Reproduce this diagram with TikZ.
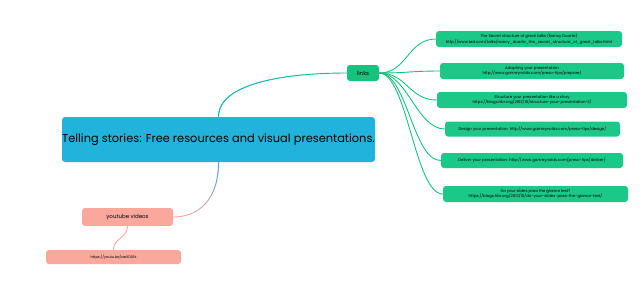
\documentclass[tikz,border=0pt]{standalone}
\usepackage{fontspec}
\setmainfont{Poppins}
\usetikzlibrary{fadings}
\definecolor{cblue}{HTML}{22B3DC}
\definecolor{cgreen}{HTML}{1CC888}
\definecolor{clinks}{HTML}{17C27F}
\definecolor{csalmon}{HTML}{FBA89C}
\begin{document}
\begin{tikzpicture}[x=1pt,y=-1pt,
  box/.style={rounded corners=3pt, inner sep=0pt, align=center, text=black},
  leaf/.style={box, fill=cgreen, font=\fontsize{3.9}{4.6}\selectfont},
  link/.style={draw=clinks, line width=0.9pt},
  conn/.style={line width=0.9pt}]
\useasboundingbox (0,0) rectangle (640,285);
\node[box, fill=cblue, minimum width=313pt, minimum height=45pt, font=\fontsize{11.4}{13}\selectfont] (c) at (218.5,139.5) {Telling stories: Free resources and visual presentations.};
\node[box, fill=clinks, minimum width=32pt, minimum height=16pt, font=\fontsize{5.5}{6}\selectfont] (links) at (363,73) {links};
\node[box, fill=csalmon, minimum width=91pt, minimum height=18pt, font=\fontsize{5.5}{6}\selectfont] (yt) at (127.5,217) {youtube videos};
\node[box, fill=csalmon, minimum width=135pt, minimum height=14pt, font=\fontsize{3.6}{4}\selectfont] (url) at (113.5,257) {https://youtu.be/aeXDD1k};
\node[leaf, minimum width=186pt, minimum height=16pt] (l1) at (529,39) {The Secret structure of great talks (Nancy Duarte)\\http://www.ted.com/talks/nancy\_duarte\_the\_secret\_structure\_of\_great\_talks.html};
\node[leaf, minimum width=184pt, minimum height=16pt] (l2) at (532,71) {Adapting your presentation\\http://www.garrreynolds.com/preso-tips/prepare/};
\node[leaf, minimum width=190pt, minimum height=16pt] (l3) at (532,100) {Structure your presentation like a story\\https://blogs.hbr.org/2012/10/structure-your-presentation-li/};
\node[leaf, minimum width=175pt, minimum height=15pt] (l4) at (532.5,129) {Design your presentation: http://www.garrreynolds.com/preso-tips/design/};
\node[leaf, minimum width=182pt, minimum height=15pt] (l5) at (532,160.5) {Deliver your presentation: http://www.garrreynolds.com/preso-tips/deliver/};
\node[leaf, minimum width=185pt, minimum height=16pt] (l6) at (535.5,194) {Do your slides pass the glance test?\\https://blogs.hbr.org/2012/10/do-your-slides-pass-the-glance-test/};
% central to links
\draw[conn, draw=clinks] (c.north) .. controls ++(0,-34) and ++(-60,0) .. (links.west);
\draw[conn, draw=cblue, path fading=east] (c.north) .. controls ++(0,-34) and ++(-60,0) .. (links.west);
% central to youtube
\draw[conn, draw=csalmon] (c.south) .. controls ++(0,38) and ++(25,0) .. (yt.east);
\draw[conn, draw=cblue, path fading=south] (c.south) .. controls ++(0,38) and ++(25,0) .. (yt.east);
% youtube to url
\draw[conn, draw=csalmon] (yt.south) .. controls ++(0,12) and ++(0,-12) .. (url.north);
% links to leaves
\foreach \l in {l1,l2,l3,l4,l5,l6}
  \draw[link] (links.east) .. controls ++(28,0) and ++(-28,0) .. (\l.west);
\end{tikzpicture}
\end{document}
